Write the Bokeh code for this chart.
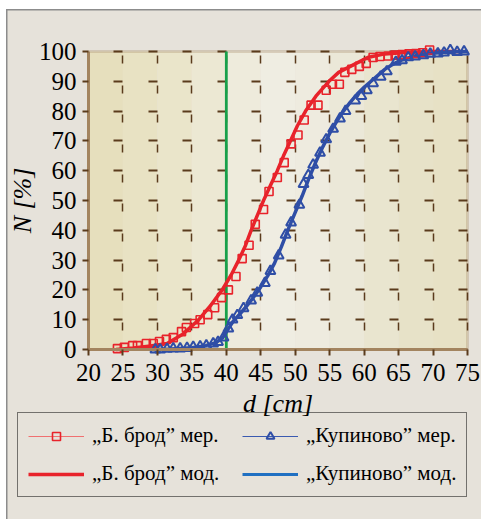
from bokeh.plotting import figure
from bokeh.models import (Legend, LegendItem, ColumnDataSource, FixedTicker, Range1d,
                          BoxAnnotation)
from bokeh.embed import file_html
from bokeh.resources import INLINE

# ---- data ----
brod_x = [24.2, 25.2, 26.4, 27.1, 28.4, 29.4, 30.3, 31.3, 32.3, 33.5, 34.2, 35.4, 36.2, 37.3,
          38.3, 39.3, 40.3, 41.4, 42.3, 43.3, 44.2, 45.4, 46.2, 47.4, 48.4, 49.4, 50.4, 51.3,
          52.3, 53.3, 54.5, 55.4, 56.4, 57.2, 58.2, 59.3, 60.3, 61.3, 62.3, 63.5, 64.5, 65.5,
          66.5, 67.5, 68.5, 69.5]
brod_y = [0.3, 0.7, 1.3, 1.3, 2.0, 2.0, 2.7, 3.4, 4.0, 6.0, 7.4, 8.7, 10.0, 11.7,
          14.0, 17.4, 20.0, 24.5, 30.5, 35.0, 42.0, 47.0, 53.0, 57.7, 62.7, 69.0, 72.0, 77.0,
          82.0, 82.0, 87.0, 89.0, 89.0, 93.0, 94.0, 95.0, 96.0, 98.0, 98.3, 98.5, 98.8, 99.0,
          99.2, 99.3, 99.6, 100.5]

kup_x = [29.7, 30.4, 31.4, 32.3, 33.3, 34.3, 35.2, 36.2, 37.1, 38.1, 38.8, 39.6, 40.3, 40.9,
         41.6, 42.5, 43.6, 44.5, 45.6, 46.4, 47.6, 48.6, 49.4, 50.6, 51.2, 51.9, 52.6, 53.6,
         54.5, 55.5, 56.5, 57.3, 58.7, 59.6, 60.4, 61.3, 62.4, 63.3, 64.6, 65.5, 66.4, 67.4,
         68.6, 69.6, 70.7, 71.6, 72.5, 73.5, 74.5]
kup_y = [0.0, 0.0, 0.2, 0.3, 0.3, 0.5, 0.8, 1.0, 1.3, 2.0, 2.5, 4.0, 7.0, 10.0,
         11.5, 13.8, 16.4, 19.0, 22.3, 26.3, 31.5, 38.5, 42.6, 48.5, 55.5, 58.5, 62.0, 66.0,
         70.5, 74.0, 77.5, 80.0, 83.5, 85.0, 87.0, 89.3, 91.5, 93.3, 96.5, 97.0, 98.0, 98.3,
         98.7, 99.2, 99.3, 99.6, 100.4, 99.8, 100.0]

brod_mod_x = [24, 26.5, 29, 31.4, 33.6, 36, 37.8, 39.4, 40.7, 41.8, 42.8, 43.6, 44.5, 45.4,
              46.4, 47.4, 48.3, 49.3, 50.3, 51.5, 53, 54.9, 56.3, 58, 60.5, 63, 66, 70, 74]
brod_mod_y = [0, 0.5, 1.2, 2, 5, 10, 15, 20, 25, 30, 35, 40, 45, 50,
              55, 60, 65, 70, 75, 80, 85, 90, 93, 95, 98, 99.2, 99.7, 100, 100]

kup_mod_x = [29.3, 32, 35, 37, 38.5, 39.5, 40.3, 41, 42, 43, 44, 45, 46, 47, 48, 49, 50, 51,
             52, 53, 54, 55, 56, 57, 58, 59, 60, 61, 62, 63, 64, 65, 66, 67, 68, 70, 72, 75]
kup_mod_y = [0, 0.2, 0.6, 1.3, 2.3, 4, 7, 9.5, 12, 14.7, 17.7, 21, 24.7, 29, 34.5, 40.5, 46,
             51.5, 57.5, 63, 68, 72.5, 76.5, 80, 83, 85.7, 88, 90, 92, 94, 95.5, 96.7, 97.6,
             98.3, 98.8, 99.4, 99.8, 100]

threshold_d = 40
x_ticks = [20, 25, 30, 35, 40, 45, 50, 55, 60, 65, 70, 75]
y_ticks = [0, 10, 20, 30, 40, 50, 60, 70, 80, 90, 100]
labels = ["\u201eБ. брод\u201d мер.", "\u201eБ. брод\u201d мод.",
          "\u201eКупиново\u201d мер.", "\u201eКупиново\u201d мод."]

RED = "#e8232b"
BLUE = "#2f4ea6"
BLUE_LEG = "#2070c2"
GRID = "#5a3b1c"
PAGE = "#e6e2da"
FRAME = "#a3845f"
SERIF = "'Liberation Serif', 'Times New Roman', serif"
# background tint of the plotting area, one shade per 5 cm column (left to right)
BAND_COLORS = ["#e6dfbd", "#e8e2c3", "#eae5ca", "#ece8d3", "#eeebdc", "#efede2",
               "#eeebdf", "#ebe8d8", "#e9e5cf", "#e7e2c8", "#e7e1c5"]

X0, X1 = x_ticks[0], x_ticks[-1]
Y0, Y1 = y_ticks[0], y_ticks[-1]

# the frame covers the whole canvas; the data area (20..75 x 0..100) sits inside it
W, H = 474, 509
px_per_x = 379 / (X1 - X0)
px_per_y = 298 / (Y1 - Y0)
x_range = Range1d(X0 - 81 / px_per_x, X1 + 14 / px_per_x)
y_range = Range1d(Y0 - 170 / px_per_y, Y1 + 41 / px_per_y)

p = figure(width=W, height=H, x_range=x_range, y_range=y_range,
           output_backend="svg", toolbar_location=None, min_border=0)
p.margin = (10, 0, 0, 7)
p.styles = {"outline": "2px solid #8c8c8c", "outline-offset": "-1px"}
p.border_fill_color = PAGE
p.background_fill_color = PAGE
p.outline_line_color = None

for a, b, c in zip(x_ticks[:-1], x_ticks[1:], BAND_COLORS):
    p.add_layout(BoxAnnotation(left=a, right=b, bottom=Y0, top=Y1, fill_color=c,
                               fill_alpha=1, line_color=None, level="image"))
p.add_layout(BoxAnnotation(left=X0, right=X1, bottom=Y0, top=Y1, fill_alpha=0,
                           line_color=FRAME, line_width=3, level="image"))

for ax in (p.xaxis[0], p.yaxis[0]):
    ax.major_label_text_font = SERIF
    ax.major_label_text_font_size = "25px"
    ax.major_label_text_color = "black"
    ax.axis_line_color = FRAME
    ax.axis_line_width = 3
    ax.major_tick_line_color = GRID
    ax.major_tick_line_width = 2
    ax.major_tick_out = 6
    ax.major_tick_in = 0
    ax.minor_tick_line_color = None
    ax.axis_label_text_font = SERIF
    ax.axis_label_text_font_size = "26px"
    ax.axis_label_text_font_style = "italic"
    ax.axis_label_text_color = "black"

p.xaxis.fixed_location = Y0
p.yaxis.fixed_location = X0
p.xaxis.bounds = (X0, X1)
p.yaxis.bounds = (Y0, Y1)
p.xaxis.ticker = FixedTicker(ticks=x_ticks)
p.yaxis.ticker = FixedTicker(ticks=y_ticks)
p.xaxis.axis_label = "d [cm]"
p.yaxis.axis_label = "N [%]"
p.xaxis.major_label_standoff = 8
p.yaxis.major_label_standoff = 6
p.xaxis.axis_label_standoff = 5
p.yaxis.axis_label_standoff = -1

XDASH, XOFF = "8 22 8 22 8 21", 11
YDASH, YOFF = "9 25 9 26", 9

if "cross_bounds" in p.xgrid[0].properties():
    p.xgrid.ticker = FixedTicker(ticks=x_ticks)
    p.ygrid.ticker = FixedTicker(ticks=y_ticks)
    p.xgrid.bounds = (X0, X1)
    p.ygrid.bounds = (Y0, Y1)
    p.xgrid.cross_bounds = (Y0, Y1)
    p.ygrid.cross_bounds = (X0, X1)
    p.xgrid.grid_line_color = GRID
    p.xgrid.grid_line_width = 1.5
    p.xgrid.grid_line_dash = XDASH
    p.xgrid.grid_line_dash_offset = XOFF
    p.ygrid.grid_line_color = GRID
    p.ygrid.grid_line_width = 2
    p.ygrid.grid_line_dash = YDASH
    p.ygrid.grid_line_dash_offset = YOFF
else:
    p.grid.visible = False
    inner_x = x_ticks[1:-1]
    inner_y = y_ticks[1:-1]
    p.segment(x0=inner_x, y0=[Y0] * len(inner_x), x1=inner_x, y1=[Y1] * len(inner_x),
              line_color=GRID, line_width=1.5, line_dash=XDASH, line_dash_offset=XOFF,
              level="underlay")
    p.segment(x0=[X0] * len(inner_y), y0=inner_y, x1=[X1] * len(inner_y), y1=inner_y,
              line_color=GRID, line_width=2, line_dash=YDASH, line_dash_offset=YOFF,
              level="underlay")

src_b = ColumnDataSource(dict(x=brod_x, y=brod_y))
src_k = ColumnDataSource(dict(x=kup_x, y=kup_y))
src_bm = ColumnDataSource(dict(x=brod_mod_x, y=brod_mod_y))
src_km = ColumnDataSource(dict(x=kup_mod_x, y=kup_mod_y))

# threshold line
p.segment(x0=[threshold_d], y0=[Y0], x1=[threshold_d], y1=[Y1],
          line_color="#18a04a", line_width=2.8)

r_bmod = p.line("x", "y", source=src_bm, line_color=RED, line_width=3.5)
p.line("x", "y", source=src_km, line_color=BLUE, line_width=3.5)
r_bpts = p.scatter("x", "y", source=src_b, marker="square", size=8, fill_color=None,
                   line_color=RED, line_width=1.6)
r_kpts = p.scatter("x", "y", source=src_k, marker="triangle", size=10, fill_color=None,
                   line_color=BLUE, line_width=2)

# hidden renderers that only give the legend its sample lines
g_bline = p.line("x", "y", source=src_b, line_color="#f07070", line_width=1.2, visible=False)
g_kline = p.line("x", "y", source=src_k, line_color="#3a5ab0", line_width=1.2, visible=False)
g_kmod = p.line("x", "y", source=src_km, line_color=BLUE_LEG, line_width=3, visible=False)

legend = Legend(items=[
    LegendItem(label=labels[0], renderers=[g_bline, r_bpts], index=0),
    LegendItem(label=labels[1], renderers=[r_bmod]),
    LegendItem(label=labels[2], renderers=[g_kline, r_kpts], index=0),
    LegendItem(label=labels[3], renderers=[g_kmod]),
], ncols=2, location=(10, 22))
legend.label_text_font = SERIF
legend.label_text_font_size = "21px"
legend.label_text_color = "black"
legend.glyph_width = 56
legend.glyph_height = 20
legend.label_standoff = 8
legend.label_width = 137
legend.spacing = 13
legend.padding = 10
legend.margin = 0
legend.border_line_color = "black"
legend.border_line_width = 1.5
legend.background_fill_alpha = 0
p.add_layout(legend, "center")

open("out.html", "w").write(file_html(p, INLINE))
